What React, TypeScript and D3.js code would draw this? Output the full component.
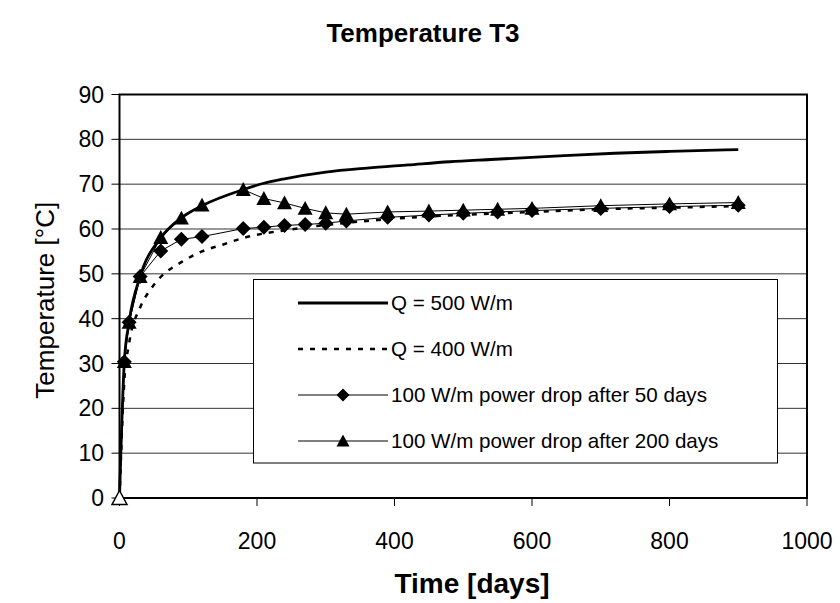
import React from "react";
import * as d3 from "d3";

const title = "Temperature T3";
const xTitle = "Time [days]";
const yTitle = "Temperature [°C]";
const xTicks = [0, 200, 400, 600, 800, 1000];
const yTicks = [0, 10, 20, 30, 40, 50, 60, 70, 80, 90];

const q500Days = [0, 7, 14, 30, 60, 90, 120, 180, 210, 240, 300, 360, 420, 480, 540, 640, 720, 800, 900];
const q500Vals = [0, 30.4, 39.3, 49.4, 58.0, 62.5, 65.2, 68.8, 70.2, 71.2, 72.7, 73.6, 74.3, 75.0, 75.5, 76.3, 76.9, 77.3, 77.7];

const q400Days = [0, 7, 14, 30, 45, 60, 90, 120, 150, 180, 210, 240, 300, 360, 450, 540, 630, 720, 810, 900];
const q400Vals = [0, 26, 34.5, 42.5, 46.5, 49.3, 52.6, 55.0, 56.5, 58.0, 59.0, 59.7, 60.9, 61.8, 62.8, 63.4, 64.0, 64.5, 64.8, 65.1];

const drop50Days = [0, 7, 14, 30, 60, 90, 120, 180, 210, 240, 270, 300, 330, 390, 450, 500, 550, 600, 700, 800, 900];
const drop50Vals = [0, 30.4, 39.2, 49.4, 55.1, 57.7, 58.3, 60.1, 60.4, 60.8, 61.0, 61.3, 61.8, 62.6, 63.1, 63.5, 63.8, 64.1, 64.6, 65.0, 65.3];

const drop200Days = [0, 7, 14, 30, 60, 90, 120, 180, 210, 240, 270, 300, 330, 390, 450, 500, 550, 600, 700, 800, 900];
const drop200Vals = [0, 30.4, 39.2, 49.4, 58.1, 62.4, 65.3, 68.8, 66.8, 65.8, 64.6, 63.6, 63.3, 63.8, 64.0, 64.2, 64.4, 64.6, 65.2, 65.6, 65.9];

const legendLabels = [
  "Q = 500 W/m",
  "Q = 400 W/m",
  "100 W/m power drop after 50 days",
  "100 W/m power drop after 200 days",
];

const FONT = "'Liberation Sans', Arial, sans-serif";

export default function App() {
  const left = 119.5, right = 807, top = 94.5, bottom = 498;
  const x = d3.scaleLinear().domain([0, 1000]).range([left, right]);
  const y = d3.scaleLinear().domain([0, 90]).range([bottom, top]);

  const smooth = d3.line<[number, number]>().x(d => x(d[0])).y(d => y(d[1])).curve(d3.curveMonotoneX);
  const straight = d3.line<[number, number]>().x(d => x(d[0])).y(d => y(d[1]));

  const zip = (a: number[], b: number[]) => a.map((v, i) => [v, b[i]] as [number, number]);
  const s500 = zip(q500Days, q500Vals);
  const s400 = zip(q400Days, q400Vals);
  const s50 = zip(drop50Days, drop50Vals);
  const s200 = zip(drop200Days, drop200Vals);

  const diamond = (cx: number, cy: number, r = 7.5) =>
    `M${cx},${cy - r}L${cx + r},${cy}L${cx},${cy + r}L${cx - r},${cy}Z`;
  const tri = (cx: number, cy: number, r = 7.5) =>
    `M${cx},${cy - r}L${cx + r},${cy + r * 0.85}L${cx - r},${cy + r * 0.85}Z`;

  const lg = { x: 253.5, y: 279.5, w: 524, h: 183.5 };
  const rowY = [303, 349, 395, 441];
  const sx0 = 298, sx1 = 388, tx = 391;

  return (
    <svg width={840} height={603} style={{ position: "absolute", left: 0, top: 0, background: "#fff" }}
      fontFamily={FONT}>
      <rect x={0} y={0} width={840} height={603} fill="#fff" />
      <text x={423} y={42} textAnchor="middle" fontSize={26} fontWeight="bold">{title}</text>

      {yTicks.filter(t => t > 0).map(t => (
        <line key={"g" + t} x1={left} x2={right} y1={y(t)} y2={y(t)} stroke="#333" strokeWidth={1} />
      ))}

      {yTicks.map(t => (
        <g key={"yt" + t}>
          <line x1={left - 8} x2={left} y1={y(t)} y2={y(t)} stroke="#000" strokeWidth={1} />
          <text x={104} y={y(t)} dy="0.35em" textAnchor="end" fontSize={23}>{t}</text>
        </g>
      ))}
      {xTicks.map(t => (
        <g key={"xt" + t}>
          <line x1={x(t)} x2={x(t)} y1={bottom} y2={bottom + 8} stroke="#000" strokeWidth={1} />
          <text x={x(t)} y={549} textAnchor="middle" fontSize={23}>{t}</text>
        </g>
      ))}

      <rect x={left} y={top} width={right - left} height={bottom - top} fill="none" stroke="#000" strokeWidth={2} />

      <path d={straight(s50) || ""} fill="none" stroke="#000" strokeWidth={1} />
      <path d={straight(s200) || ""} fill="none" stroke="#000" strokeWidth={1} />
      <path d={smooth(s400) || ""} fill="none" stroke="#000" strokeWidth={2.5} strokeDasharray="5,7" />
      <path d={smooth(s500) || ""} fill="none" stroke="#000" strokeWidth={2.8} />

      {s50.slice(1).map((d, i) => (
        <path key={"d" + i} d={diamond(x(d[0]), y(d[1]))} fill="#000" />
      ))}
      {s200.map((d, i) => (
        <path key={"t" + i} d={tri(x(d[0]), y(d[1]))} fill={i === 0 ? "#fff" : "#000"} stroke="#000" strokeWidth={i === 0 ? 1.5 : 0} />
      ))}

      <rect x={lg.x} y={lg.y} width={lg.w} height={lg.h} fill="#fff" stroke="#000" strokeWidth={1} />
      <line x1={sx0} x2={sx1} y1={rowY[0]} y2={rowY[0]} stroke="#000" strokeWidth={2.8} />
      <line x1={sx0} x2={sx1} y1={rowY[1]} y2={rowY[1]} stroke="#000" strokeWidth={2.5} strokeDasharray="5,7" />
      <line x1={sx0} x2={sx1} y1={rowY[2]} y2={rowY[2]} stroke="#000" strokeWidth={1} />
      <path d={diamond((sx0 + sx1) / 2, rowY[2], 6.5)} fill="#000" />
      <line x1={sx0} x2={sx1} y1={rowY[3]} y2={rowY[3]} stroke="#000" strokeWidth={1} />
      <path d={tri((sx0 + sx1) / 2, rowY[3], 6.5)} fill="#000" />
      {legendLabels.map((l, i) => (
        <text key={l} x={tx} y={rowY[i]} dy="0.35em" fontSize={20.6}>{l}</text>
      ))}

      <text x={472} y={593} textAnchor="middle" fontSize={28} fontWeight="bold">{xTitle}</text>
      <text transform={`translate(54,${(top + bottom) / 2 + 4}) rotate(-90)`} textAnchor="middle" fontSize={26}>{yTitle}</text>
    </svg>
  );
}
